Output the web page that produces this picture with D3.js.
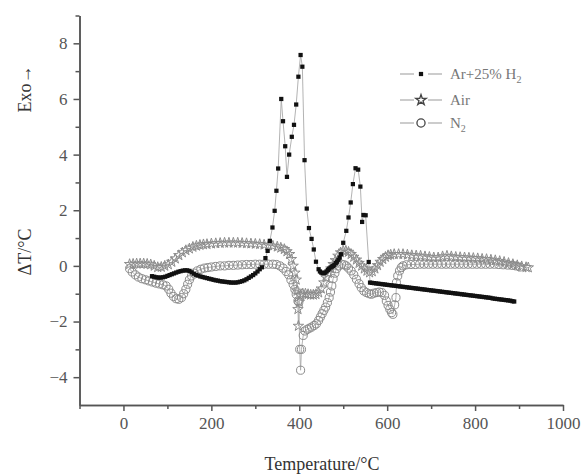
<!DOCTYPE html>
<html>
<head>
<meta charset="utf-8">
<script src="https://cdn.jsdelivr.net/npm/d3@7"></script>
<style>
  body { margin: 0; background: #fff; }
  svg text { font-family: "Liberation Serif", "DejaVu Serif", serif; }
</style>
</head>
<body>
<div id="chart"></div>
<script>
/* DATA */
const xMajor = [0, 200, 400, 600, 800, 1000];
const xMinor = [-100, 100, 300, 500, 700, 900];
const yMajor = [-4, -2, 0, 2, 4, 6, 8];
const yMinor = [-3, -1, 1, 3, 5, 7, 9];
const legendLabels = ["Ar+25% H", "Air", "N"];

// Ar+25% H2 (filled squares)
const h2Data = [
  [65,-0.37],[70,-0.39],[75,-0.41],[80,-0.42],[85,-0.42],[90,-0.41],[95,-0.39],[100,-0.36],
  [105,-0.33],[110,-0.3],[115,-0.27],[120,-0.24],[125,-0.21],[130,-0.19],[135,-0.17],[140,-0.16],
  [145,-0.16],[150,-0.18],[155,-0.23],[160,-0.28],[165,-0.32],[170,-0.35],[175,-0.38],[180,-0.4],
  [185,-0.42],[190,-0.44],[195,-0.46],[200,-0.48],[205,-0.5],[210,-0.52],[215,-0.53],[220,-0.55],
  [225,-0.56],[230,-0.57],[235,-0.58],[240,-0.59],[245,-0.6],[250,-0.6],[255,-0.6],[260,-0.59],
  [265,-0.57],[270,-0.55],[275,-0.52],[280,-0.48],[285,-0.43],[290,-0.38],[295,-0.33],[300,-0.27],
  [305,-0.2],[310,-0.12],[315,-0.05],
  [323,0.28],[328,0.54],[333,0.9],[339,1.38],[344,1.98],[348,2.7],
  [352,3.5],[359,6.0],[363,5.2],[368,4.3],[372,3.2],[377,4.0],[383,4.64],[388,5.07],[393,5.8],
  [398,6.8],[403,7.58],[407,7.16],[412,3.8],[417,2.06],[422,1.36],[428,0.97],[433,0.59],
  [438,0.15],[444,-0.12],[447,-0.2],[450,-0.24],[453,-0.26],[456,-0.26],[459,-0.24],[462,-0.2],
  [465,-0.15],[468,-0.1],[471,-0.06],[474,-0.03],[477,0.0],[480,0.04],[483,0.1],[486,0.15],
  [489,0.22],[492,0.3],[495,0.42],[500,0.83],[507,1.26],[512,1.74],[517,2.28],[522,2.94],
  [528,3.51],[534,3.46],[539,2.85],[543,1.58],[546,1.83],[551,1.82],[558,0.14],[561,-0.6],
  [565,-0.61],[570,-0.62],[575,-0.63],[580,-0.64],[585,-0.65],[590,-0.66],[595,-0.67],[600,-0.68],
  [605,-0.69],[610,-0.7],[615,-0.71],[620,-0.72],[625,-0.73],[630,-0.74],[635,-0.75],[640,-0.76],
  [645,-0.77],[650,-0.78],[655,-0.79],[660,-0.8],[665,-0.81],[670,-0.82],[675,-0.83],[680,-0.84],
  [685,-0.85],[690,-0.86],[695,-0.87],[700,-0.88],[705,-0.89],[710,-0.9],[715,-0.91],[720,-0.92],
  [725,-0.93],[730,-0.94],[735,-0.95],[740,-0.96],[745,-0.97],[750,-0.98],[755,-0.99],[760,-1.0],
  [765,-1.01],[770,-1.02],[775,-1.03],[780,-1.04],[785,-1.05],[790,-1.06],[795,-1.07],[800,-1.08],
  [805,-1.09],[810,-1.1],[815,-1.11],[820,-1.12],[825,-1.13],[830,-1.14],[835,-1.15],[840,-1.17],
  [845,-1.18],[850,-1.19],[855,-1.2],[860,-1.21],[865,-1.22],[870,-1.23],[875,-1.24],[880,-1.25],
  [885,-1.27],[889,-1.28]
];

// Air (open stars)
const airData = [
  [14,0.06],[22,0.07],[30,0.08],[38,0.08],[46,0.08],[54,0.07],[62,0.05],[70,0.0],[78,-0.05],
  [86,-0.04],[94,0.0],[102,0.05],[110,0.14],[118,0.26],[126,0.38],[134,0.48],[142,0.56],
  [150,0.62],[158,0.68],[166,0.72],[174,0.75],[182,0.77],[190,0.78],[200,0.8],[210,0.81],
  [220,0.82],[230,0.83],[240,0.83],[250,0.83],[260,0.83],[270,0.82],[280,0.81],[290,0.8],
  [300,0.79],[310,0.78],[320,0.76],[330,0.74],[340,0.72],[350,0.69],[358,0.65],[366,0.6],
  [372,0.52],[378,0.42],[382,0.24],[386,0.0],[390,-0.25],[393,-0.5],[395,-0.9],[397,-1.56],
  [398,-2.16],[400,-1.3],[403,-1.06],[408,-1.0],[414,-1.0],[420,-1.02],[426,-1.04],[432,-1.04],
  [438,-1.02],[444,-0.96],[450,-0.82],[456,-0.6],[461,-0.42],[466,-0.26],[472,-0.1],[477,0.06],
  [482,0.2],[488,0.36],[494,0.48],[500,0.54],[506,0.54],[512,0.5],[518,0.42],[524,0.32],
  [530,0.22],[536,0.1],[542,0.0],[548,-0.1],[554,-0.18],[560,-0.24],[566,-0.2],[572,-0.1],
  [578,0.02],[584,0.14],[590,0.24],[596,0.32],[602,0.38],[608,0.4],[616,0.42],[626,0.42],
  [636,0.42],[646,0.4],[656,0.38],[666,0.37],[676,0.36],[686,0.34],[696,0.32],[706,0.3],
  [716,0.3],[726,0.34],[736,0.36],[746,0.34],[756,0.32],[766,0.31],[776,0.3],[786,0.29],
  [796,0.28],[806,0.27],[816,0.25],[826,0.24],[836,0.22],[846,0.2],[856,0.17],[866,0.14],
  [876,0.1],[886,0.06],[896,0.02],[906,-0.02],[916,-0.05],[921,-0.06]
];

// N2 (open circles)
const n2Data = [
  [14,-0.1],[20,-0.22],[27,-0.32],[34,-0.4],[42,-0.46],[50,-0.5],[58,-0.54],[66,-0.58],
  [74,-0.62],[82,-0.65],[90,-0.68],[97,-0.72],[103,-0.84],[108,-0.98],[114,-1.1],[120,-1.18],
  [126,-1.2],[132,-1.14],[137,-1.0],[142,-0.84],[146,-0.66],[150,-0.5],[155,-0.36],[161,-0.26],
  [168,-0.18],[176,-0.12],[184,-0.08],[192,-0.06],[200,-0.04],[210,-0.02],[220,0.0],[230,0.0],
  [240,0.02],[250,0.02],[260,0.03],[270,0.04],[280,0.05],[290,0.05],[300,0.06],[310,0.06],
  [320,0.06],[330,0.06],[340,0.06],[348,0.05],[356,0.0],[363,-0.08],[370,-0.2],[376,-0.32],
  [381,-0.5],[386,-0.66],[390,-0.84],[393,-1.02],[397,-1.26],[399,-1.3],[401,-3.0],[403,-3.75],
  [405,-3.0],[409,-2.5],[413,-2.34],[418,-2.28],[423,-2.24],[428,-2.2],[434,-2.14],[439,-2.08],
  [444,-1.96],[448,-1.84],[452,-1.72],[456,-1.6],[460,-1.48],[464,-1.32],[468,-1.14],[471,-0.94],
  [474,-0.72],[477,-0.46],[481,-0.26],[485,-0.1],[490,0.0],[496,0.06],[502,0.04],[507,0.0],
  [512,-0.08],[518,-0.18],[524,-0.32],[530,-0.48],[536,-0.64],[541,-0.78],[547,-0.9],[553,-0.96],
  [559,-1.0],[564,-1.02],[570,-0.98],[576,-0.96],[582,-0.94],[588,-0.96],[594,-1.06],[598,-1.26],
  [602,-1.42],[606,-1.56],[610,-1.68],[613,-1.74],[617,-1.4],[620,-1.14],[621,-0.6],[624,-0.36],
  [628,-0.18],[632,-0.06],[636,0.0],[644,0.04],[654,0.05],[664,0.05],[674,0.06],[684,0.06],
  [694,0.06],[704,0.06],[714,0.06],[724,0.06],[734,0.06],[744,0.06],[754,0.06],[764,0.06],
  [774,0.06],[784,0.06],[794,0.06],[804,0.06],[814,0.06],[824,0.06],[834,0.06],[844,0.06],
  [854,0.05],[864,0.04],[874,0.03],[884,0.02],[893,0.0],[902,-0.04]
];

/* SIZES */
const width = 587, height = 474;
const grey = "#8c8c8c";
const axisCol = "#555";
const textCol = "#555";
const serif = "'Liberation Serif', 'DejaVu Serif', serif";

const svg = d3.select("#chart").append("svg")
  .attr("width", width)
  .attr("height", height);

const xScale = d3.scaleLinear().domain([-100, 1000]).range([79.5, 563]);
const yScale = d3.scaleLinear().domain([-5, 9]).range([405, 15.5]);

// axes
const xAxis = d3.axisBottom(xScale).tickValues(xMajor).tickSize(6).tickSizeOuter(0).tickPadding(6)
  .tickFormat(d3.format("d"));
const xAxisMinor = d3.axisBottom(xScale).tickValues(xMinor).tickSize(4).tickSizeOuter(0).tickFormat("");
const yAxis = d3.axisLeft(yScale).tickValues(yMajor).tickSize(6).tickSizeOuter(0).tickPadding(6)
  .tickFormat(d => d < 0 ? "\u2212" + Math.abs(d) : d);
const yAxisMinor = d3.axisLeft(yScale).tickValues(yMinor).tickSize(4).tickSizeOuter(0).tickFormat("");

function styleAxis(g) {
  g.attr("font-family", null);
  g.selectAll("path, line").attr("stroke", axisCol).attr("stroke-width", 1.5);
  g.selectAll("text").attr("fill", textCol)
    .style("font-size", "17px")
    .style("font-family", serif);
}

svg.append("g").attr("transform", `translate(0,${yScale(-5)})`).call(xAxisMinor).call(styleAxis);
svg.append("g").attr("transform", `translate(0,${yScale(-5)})`).call(xAxis).call(styleAxis);
svg.append("g").attr("transform", `translate(${xScale(-100)},0)`).call(yAxisMinor).call(styleAxis);
svg.append("g").attr("transform", `translate(${xScale(-100)},0)`).call(yAxis).call(styleAxis);

// axis titles
svg.append("text")
  .attr("x", 322).attr("y", 470)
  .attr("text-anchor", "middle")
  .style("font-size", "18px").attr("fill", "#333")
  .text("Temperature/\u00B0C");

svg.append("text")
  .attr("transform", "translate(31,89) rotate(-90)")
  .attr("text-anchor", "middle")
  .style("font-size", "18px").attr("fill", "#333")
  .text("Exo\u2192");

svg.append("text")
  .attr("transform", "translate(31,252) rotate(-90)")
  .attr("text-anchor", "middle")
  .style("font-size", "18px").attr("fill", "#333")
  .text("\u0394T/\u00B0C");

/* SERIES */
const lineGen = d3.line()
  .x(d => xScale(d[0]))
  .y(d => yScale(d[1]));

const circleSym = d3.symbol().type(d3.symbolCircle).size(52);
const starSym = d3.symbol().type(d3.symbolStar).size(34);
const squareSym = d3.symbol().type(d3.symbolSquare).size(18);

function drawSeries(data, cls, sym, fill, stroke) {
  svg.append("path")
    .datum(data)
    .attr("class", cls + "-line")
    .attr("d", lineGen)
    .attr("fill", "none")
    .attr("stroke", "#aaa")
    .attr("stroke-width", 0.9);

  svg.selectAll("path." + cls)
    .data(data)
    .join("path")
    .attr("class", cls)
    .attr("transform", d => `translate(${xScale(d[0])},${yScale(d[1])})`)
    .attr("d", sym)
    .attr("fill", fill)
    .attr("stroke", stroke)
    .attr("stroke-width", 1);
}

drawSeries(n2Data, "n2", circleSym, "none", grey);
drawSeries(airData, "air", starSym, "none", grey);
drawSeries(h2Data, "h2", squareSym, "#111", "none");

/* LEGEND */
const legend = svg.append("g").attr("class", "legend");
const legendRows = [
  { y: 74, sym: squareSym, fill: "#111", stroke: "none" },
  { y: 100, sym: starSym, fill: "#fff", stroke: "#444" },
  { y: 123, sym: circleSym, fill: "#fff", stroke: "#444" }
];

legendRows.forEach((r, i) => {
  legend.append("line")
    .attr("x1", 400).attr("x2", 414)
    .attr("y1", r.y).attr("y2", r.y)
    .attr("stroke", "#999").attr("stroke-width", 1);
  legend.append("line")
    .attr("x1", 428).attr("x2", 442)
    .attr("y1", r.y).attr("y2", r.y)
    .attr("stroke", "#999").attr("stroke-width", 1);
  legend.append("path")
    .attr("transform", `translate(421,${r.y})`)
    .attr("d", r.sym)
    .attr("fill", r.fill)
    .attr("stroke", r.stroke)
    .attr("stroke-width", 1.3);
  const t = legend.append("text")
    .attr("x", 450).attr("y", r.y + 5)
    .style("font-size", "15px").attr("fill", "#777")
    .text(legendLabels[i]);
  if (i !== 1) {
    t.append("tspan").attr("dy", 4).style("font-size", "10px").text("2");
  }
});
</script>
</body>
</html>
